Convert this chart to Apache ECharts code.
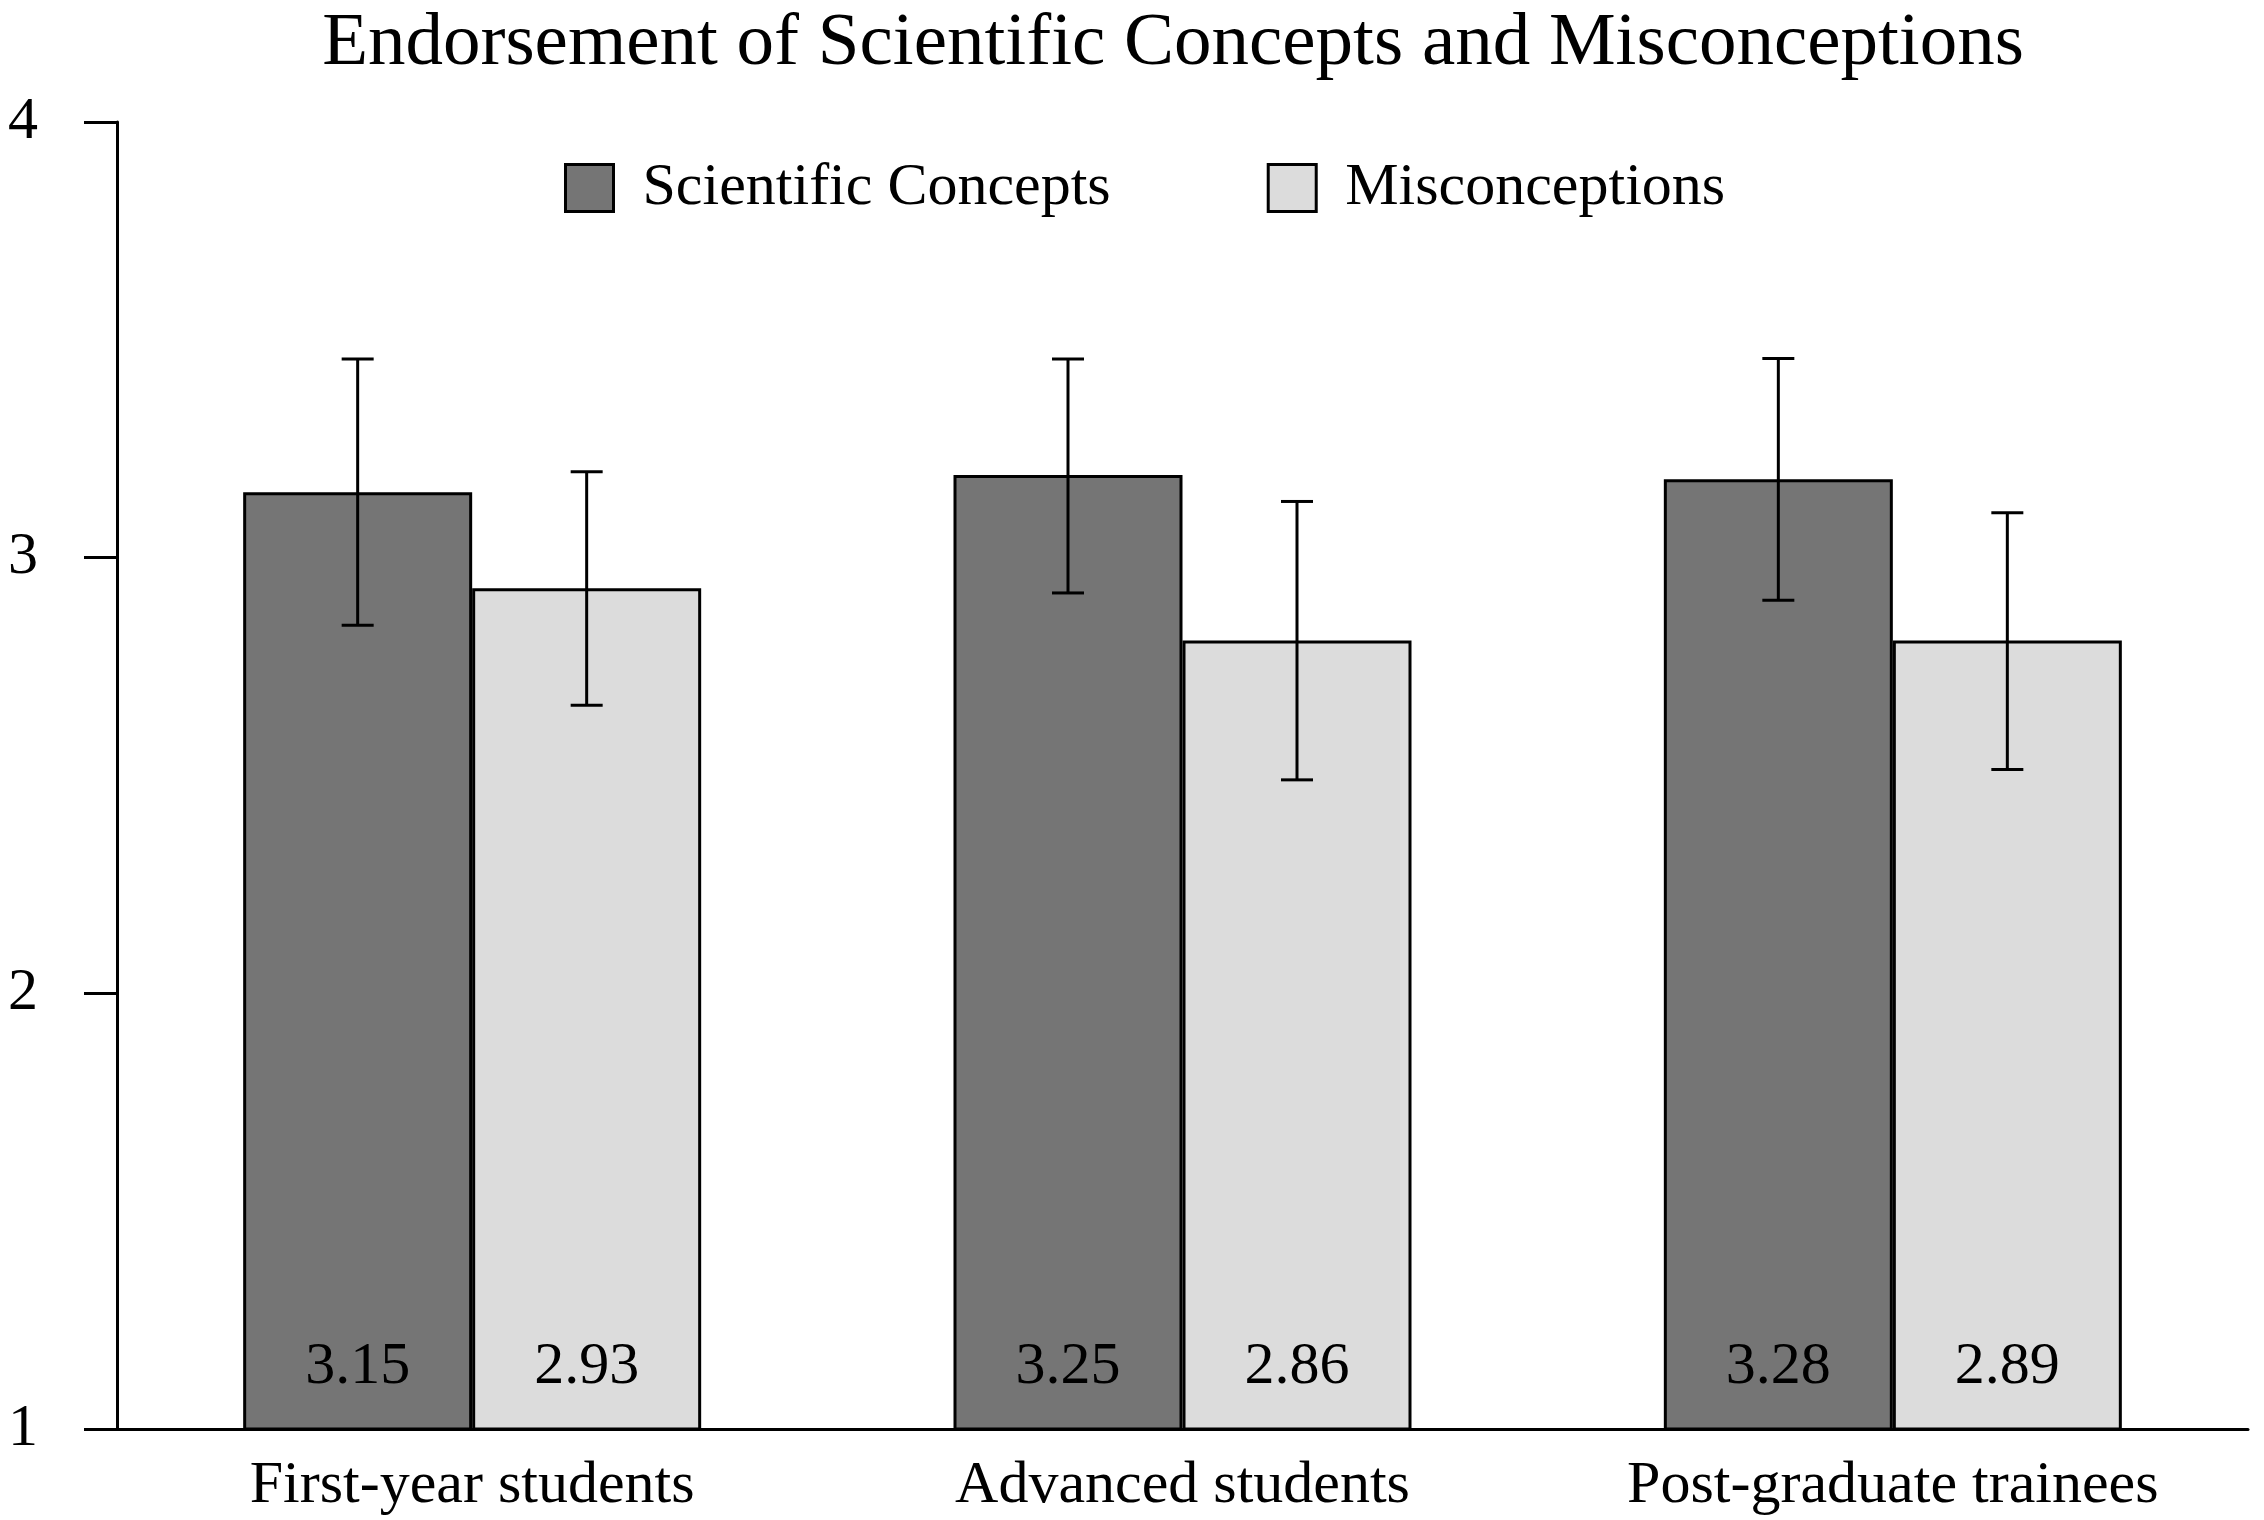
<!DOCTYPE html>
<html>
<head>
<meta charset="utf-8">
<script src="https://cdn.jsdelivr.net/npm/echarts@6/dist/echarts.min.js"></script>
<style>
html,body{margin:0;padding:0;background:#fff;}
#chart{width:2264px;height:1520px;}
</style>
</head>
<body>
<div id="chart"></div>
<script>
// ---- data ----
const categories = ['First-year students', 'Advanced students', 'Post-graduate trainees'];
const seriesNames = ['Scientific Concepts', 'Misconceptions'];
const sciMeans = [3.15, 3.19, 3.18];
const misMeans = [2.93, 2.81, 2.81];
const sciLow = [2.845, 2.919, 2.902];
const sciHigh = [3.456, 3.456, 3.457];
const misLow = [2.661, 2.490, 2.514];
const misHigh = [3.197, 3.129, 3.103];
const sciLabels = ['3.15', '3.25', '3.28'];
const misLabels = ['2.93', '2.86', '2.89'];
const yTicks = [1, 2, 3, 4];

// ---- styling ----
const FONT = 'Liberation Serif';
const BAR_W = 229;
const DARK = '#757575';
const LIGHT = '#dcdcdc';

function errorData(lo, hi) {
  return categories.map((c, i) => [i, lo[i], hi[i]]);
}

function errorSeries(name, lo, hi, offset) {
  return {
    type: 'custom',
    name: name + ' error',
    z: 10,
    silent: true,
    data: errorData(lo, hi),
    encode: { x: 0, y: [1, 2] },
    renderItem: function (params, api) {
      const idx = api.value(0);
      const pLo = api.coord([idx, api.value(1)]);
      const pHi = api.coord([idx, api.value(2)]);
      const x = pLo[0] + offset;
      const cap = 16;
      const st = { stroke: '#000', lineWidth: 3 };
      return {
        type: 'group',
        children: [
          { type: 'line', shape: { x1: x, y1: pLo[1], x2: x, y2: pHi[1] }, style: st },
          { type: 'line', shape: { x1: x - cap, y1: pLo[1], x2: x + cap, y2: pLo[1] }, style: st },
          { type: 'line', shape: { x1: x - cap, y1: pHi[1], x2: x + cap, y2: pHi[1] }, style: st }
        ]
      };
    }
  };
}

const chart = echarts.init(document.getElementById('chart'), null, { renderer: 'canvas' });
chart.setOption({
  backgroundColor: '#fff',
  animation: false,
  title: {
    text: 'Endorsement of Scientific Concepts and Misconceptions',
    left: 1168,
    top: 2,
    textAlign: 'center',
    textStyle: { fontFamily: FONT, fontSize: 75, fontWeight: 'normal', color: '#000' }
  },
  legend: {
    data: seriesNames,
    left: 559,
    top: 153,
    itemWidth: 48,
    itemHeight: 47,
    itemGap: 156,
    icon: 'rect',
    itemStyle: { borderColor: '#000', borderWidth: 3 },
    textStyle: { fontFamily: FONT, fontSize: 60, color: '#000', lineHeight: 50, padding: [0, 0, 0, 24] }
  },
  grid: { left: 117, right: 16, top: 122, bottom: 91, containLabel: false },
  xAxis: {
    type: 'category',
    data: categories,
    axisLine: { show: true, lineStyle: { color: '#000', width: 3 } },
    axisTick: { show: false },
    axisLabel: { fontFamily: FONT, fontSize: 60, color: '#000', margin: 27, interval: 0 }
  },
  yAxis: {
    type: 'value',
    min: yTicks[0],
    max: yTicks[yTicks.length - 1],
    interval: 1,
    splitLine: { show: false },
    axisLine: { show: true, lineStyle: { color: '#000', width: 3 } },
    axisTick: { show: true, length: 33, lineStyle: { color: '#000', width: 3 } },
    axisLabel: { fontFamily: FONT, fontSize: 60, color: '#000', margin: 79 }
  },
  series: [
    {
      name: seriesNames[0],
      type: 'bar',
      data: sciMeans,
      barWidth: BAR_W,
      barGap: '0%',
      itemStyle: { color: DARK, borderColor: '#000', borderWidth: 3 },
      label: {
        show: true,
        position: 'insideBottom',
        distance: 33,
        fontFamily: FONT,
        fontSize: 60,
        color: '#000',
        formatter: p => sciLabels[p.dataIndex]
      }
    },
    {
      name: seriesNames[1],
      type: 'bar',
      data: misMeans,
      barWidth: BAR_W,
      barGap: '0%',
      itemStyle: { color: LIGHT, borderColor: '#000', borderWidth: 3 },
      label: {
        show: true,
        position: 'insideBottom',
        distance: 33,
        fontFamily: FONT,
        fontSize: 60,
        color: '#000',
        formatter: p => misLabels[p.dataIndex]
      }
    },
    errorSeries(seriesNames[0], sciLow, sciHigh, -BAR_W / 2),
    errorSeries(seriesNames[1], misLow, misHigh, BAR_W / 2)
  ]
});
</script>
</body>
</html>
